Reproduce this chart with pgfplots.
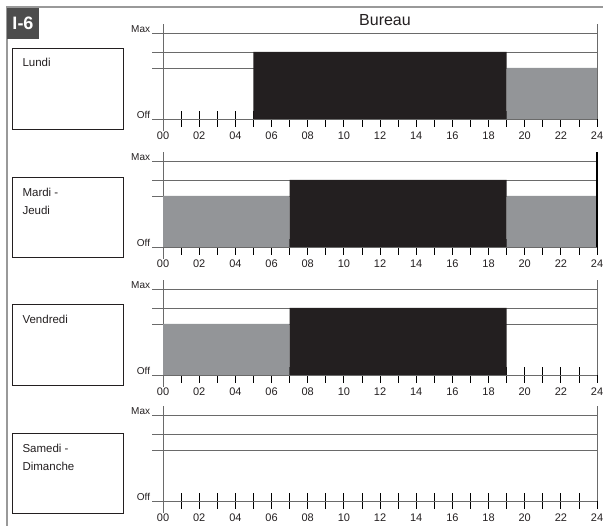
\documentclass[border=0pt]{standalone}
\usepackage{pgfplots}
\pgfplotsset{compat=1.18}
\usepackage{fontspec}
\setmainfont{Liberation Sans}
\definecolor{barblack}{HTML}{231F20}
\definecolor{bargray}{HTML}{939598}
\definecolor{linegray}{HTML}{6A6A6A}
\definecolor{badge}{HTML}{4D4D4D}
\definecolor{txt}{HTML}{231F20}

\pgfplotsset{panel/.style={
  scale only axis, width=444.85pt, height=107pt, anchor=south west,
  xmin=-0.6, xmax=24, ymin=-12, ymax=95, clip=false,
  axis lines=center, axis line style={-, draw=linegray, line width=0.9pt},
  hide obscured x ticks=false,
  xtick={0,...,24},
  xticklabels={00,,02,,04,,06,,08,,10,,12,,14,,16,,18,,20,,22,,24},
  tick align=center, major tick length=16pt,
  xtick style={draw=black, line width=0.8pt},
  xticklabel style={font=\fontsize{11}{12}\selectfont, text=txt, yshift=-1.5pt},
  ytick={51,67,86}, yticklabels={}, ytick style={draw=none},
  ymajorgrids, major grid style={draw=linegray, line width=0.9pt},
}}
\newcommand{\lvl}[1]{\node[anchor=base east, text=txt, font=\fontsize{10}{11}\selectfont, inner sep=1pt] at (axis cs:-0.65,86.5) {Max};
\node[anchor=base east, text=txt, font=\fontsize{10}{11}\selectfont, inner sep=1pt] at (axis cs:-0.65,0.5) {Off};}

\begin{document}
\begin{tikzpicture}
\useasboundingbox (0pt,0pt) rectangle (603pt,-526pt);
% frame
\draw[draw=gray!80, line width=1.5pt] (7pt,-526pt) -- (7pt,-7pt) -- (603pt,-7pt);
\fill[badge] (7pt,-8pt) rectangle (39pt,-39pt);
\node[text=white, font=\fontsize{18}{18}\selectfont\bfseries] at (23pt,-23.5pt) {I-6};
\node[text=txt, font=\fontsize{16}{16}\selectfont] at (385pt,-20pt) {Bureau};

% label boxes
\draw[txt, line width=0.8pt] (12pt,-48pt) rectangle (123pt,-129pt);
\node[anchor=west, text=txt, font=\fontsize{11.5}{13}\selectfont] at (19pt,-62pt) {Lundi};
\draw[txt, line width=0.8pt] (12pt,-177pt) rectangle (123pt,-257pt);
\node[anchor=west, text=txt, font=\fontsize{11.5}{13}\selectfont] at (19pt,-192pt) {Mardi -};
\node[anchor=west, text=txt, font=\fontsize{11.5}{13}\selectfont] at (19pt,-210pt) {Jeudi};
\draw[txt, line width=0.8pt] (12pt,-304pt) rectangle (123pt,-385pt);
\node[anchor=west, text=txt, font=\fontsize{11.5}{13}\selectfont] at (19pt,-319pt) {Vendredi};
\draw[txt, line width=0.8pt] (12pt,-433pt) rectangle (123pt,-513pt);
\node[anchor=west, text=txt, font=\fontsize{11.5}{13}\selectfont] at (19pt,-448pt) {Samedi -};
\node[anchor=west, text=txt, font=\fontsize{11.5}{13}\selectfont] at (19pt,-466pt) {Dimanche};

% Panel 1: Lundi
\begin{axis}[panel, at={(152.2pt,-131pt)}]
\addplot[fill=barblack, draw=none] coordinates {(5,0) (5,67) (19,67) (19,0)} \closedcycle;
\addplot[fill=bargray, draw=none] coordinates {(19,0) (19,51) (24,51) (24,0)} \closedcycle;
\draw[linegray, line width=0.9pt] (axis cs:24,0) -- (axis cs:24,95);
\lvl{}
\end{axis}

% Panel 2: Mardi - Jeudi
\begin{axis}[panel, at={(152.2pt,-259pt)}]
\addplot[fill=bargray, draw=none] coordinates {(0,0) (0,51) (7,51) (7,0)} \closedcycle;
\addplot[fill=barblack, draw=none] coordinates {(7,0) (7,67) (19,67) (19,0)} \closedcycle;
\addplot[fill=bargray, draw=none] coordinates {(19,0) (19,51) (24,51) (24,0)} \closedcycle;
\draw[black, line width=2pt] (axis cs:24,0) -- (axis cs:24,95);
\lvl{}
\end{axis}

% Panel 3: Vendredi
\begin{axis}[panel, at={(152.2pt,-387pt)}]
\addplot[fill=bargray, draw=none] coordinates {(0,0) (0,51) (7,51) (7,0)} \closedcycle;
\addplot[fill=barblack, draw=none] coordinates {(7,0) (7,67) (19,67) (19,0)} \closedcycle;
\draw[linegray, line width=0.9pt] (axis cs:24,0) -- (axis cs:24,95);
\lvl{}
\end{axis}

% Panel 4: Samedi - Dimanche
\begin{axis}[panel, at={(152.2pt,-513pt)}]
\draw[linegray, line width=0.9pt] (axis cs:24,0) -- (axis cs:24,95);
\lvl{}
\end{axis}
\end{tikzpicture}
\end{document}
